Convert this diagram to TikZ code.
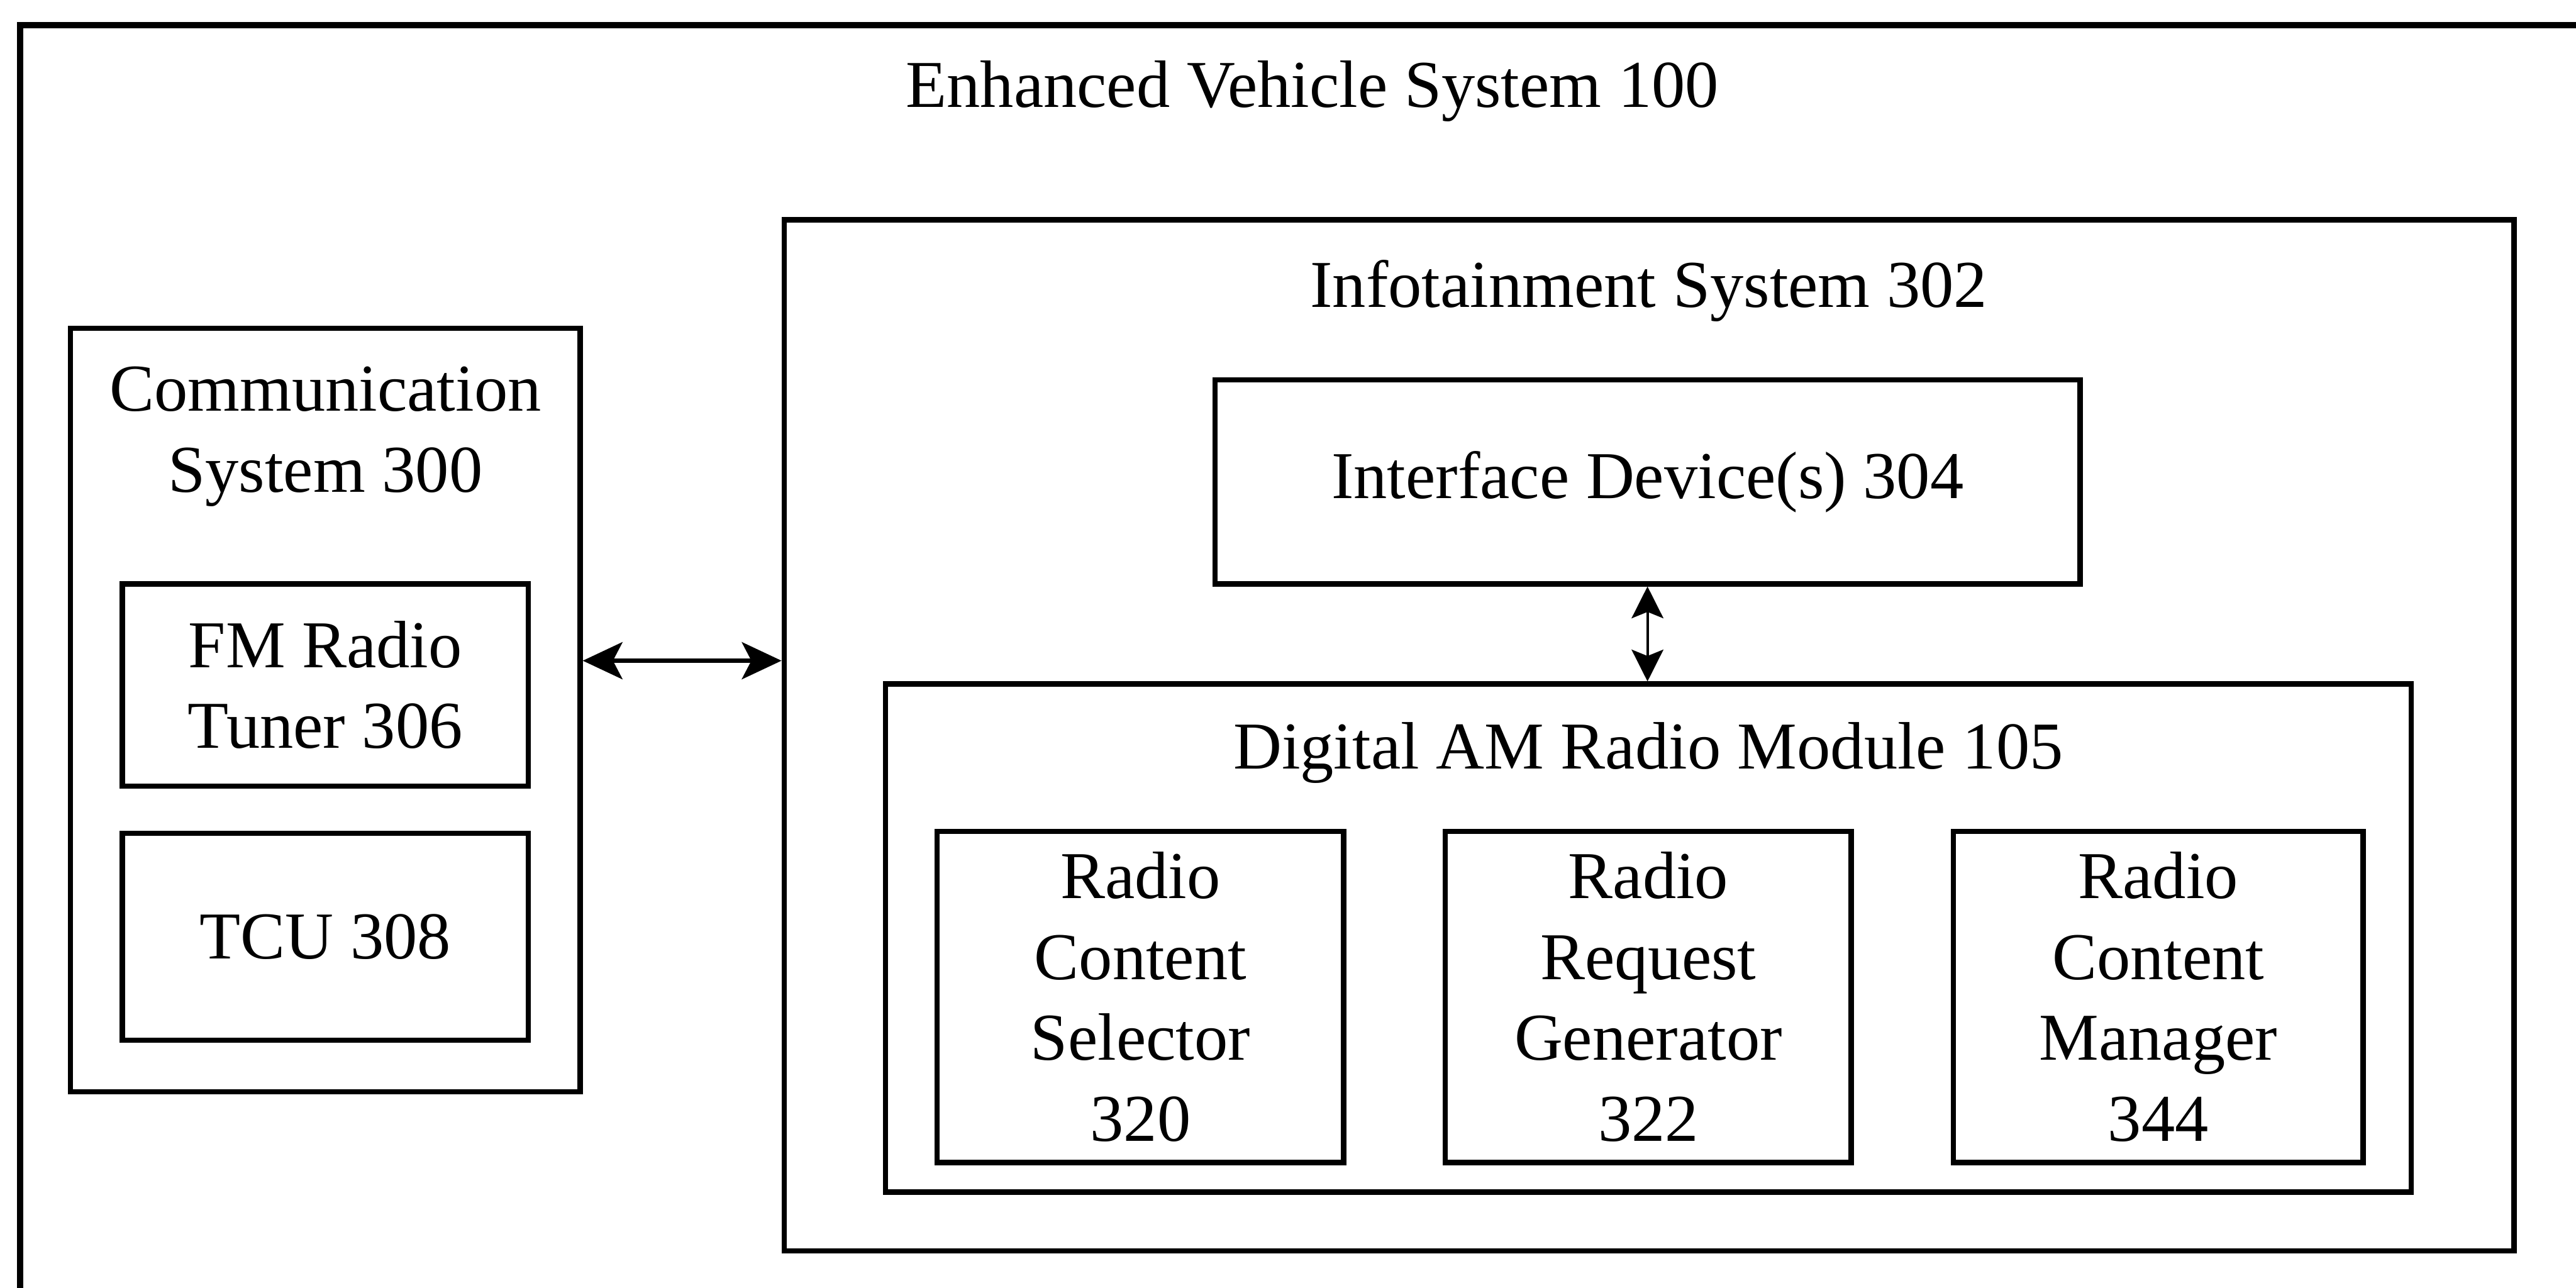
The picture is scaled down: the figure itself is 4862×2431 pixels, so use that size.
\documentclass[tikz,border=0pt]{standalone}
\usepackage{fontspec}
\setmainfont{Liberation Serif}
\usetikzlibrary{arrows.meta,fit}
\newcommand\lbl{\fontsize{18pt}{21.7pt}\selectfont}
\begin{document}
\begin{tikzpicture}[x=0.005cm,y=-0.005cm,
  box/.style={draw=black, line width=1.4pt, inner sep=0pt},
  title/.style={inner sep=0pt, font=\lbl, align=center},
  bigtip/.style={line width=1.1pt, {Stealth[length=3.75mm,width=3.5mm,inset=0.9mm]}-{Stealth[length=3.75mm,width=3.5mm,inset=0.9mm]}},
  smalltip/.style={line width=0.7pt, {Stealth[length=3mm,width=3mm,inset=0.6mm]}-{Stealth[length=3mm,width=3mm,inset=0.6mm]}}]
\useasboundingbox (0,0) rectangle (4862,2431);
\clip (0,0) rectangle (4862,2431);

% outer system frame (runs past the right and lower edges)
\node[box, line width=1.7pt, fit={(38,47) (4960,2560)}] (evs) {};
\node[title, anchor=base] (evslbl) at (2477,202) {Enhanced Vehicle System 100};

% communication system
\node[box, fit={(133,620) (1095,2061)}] (comm) {};
\node[title, anchor=north] (commlbl) at (614,691) {Communication\\System 300};
\node[box, fit={(231,1102) (997,1484)}] (fm) {};
\node[title] (fmlbl) at (fm.center) {FM Radio\\Tuner 306};
\node[box, fit={(231,1573) (997,1963)}] (tcu) {};
\node[title] (tculbl) at (tcu.center) {TCU 308};

% infotainment system
\node[box, fit={(1480,415) (4745,2361)}] (info) {};
\node[title, anchor=base] (infolbl) at (3112,580) {Infotainment System 302};
\node[box, fit={(2293,717) (3926,1102)}] (iface) {};
\node[title] (ifacelbl) at (iface.center) {Interface Device(s) 304};

% digital AM radio module
\node[box, fit={(1671,1291) (4551,2250)}] (dam) {};
\node[title, anchor=base] (damlbl) at (3111,1451) {Digital AM Radio Module 105};
\node[box, fit={(1769,1569) (2536,2194)}] (sel) {};
\node[title] (sellbl) at (sel.center) {Radio\\Content\\Selector\\320};
\node[box, fit={(2728,1569) (3494,2194)}] (gen) {};
\node[title] (genlbl) at (gen.center) {Radio\\Request\\Generator\\322};
\node[box, fit={(3687,1569) (4460,2194)}] (mgr) {};
\node[title] (mgrlbl) at (mgr.center) {Radio\\Content\\Manager\\344};

% connectors
\coordinate (hy) at (0,1247);
\draw[bigtip] (comm.east |- hy) -- (info.west |- hy);
\draw[smalltip] (iface.south) -- (iface.south |- dam.north);
\end{tikzpicture}
\end{document}
